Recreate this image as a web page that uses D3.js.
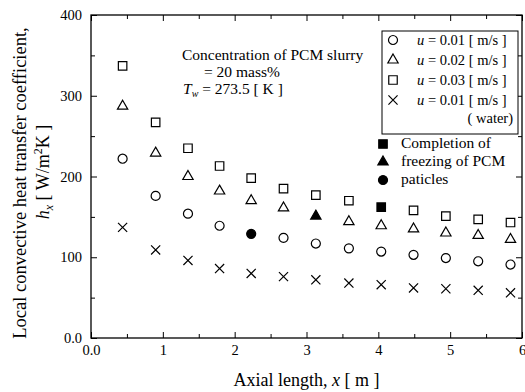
<!DOCTYPE html>
<html>
<head>
<meta charset="utf-8">
<script src="https://cdn.jsdelivr.net/npm/d3@7/dist/d3.min.js"></script>
<style>
  body { margin: 0; background: #fff; }
  svg { display: block; }
  text { font-family: "Liberation Serif", "Times New Roman", serif; fill: #000; }
</style>
</head>
<body>
<svg width="525" height="392"></svg>
<script>
// data
const axialLength = [0.44, 0.90, 1.35, 1.79, 2.23, 2.68, 3.13, 3.59, 4.04, 4.49, 4.94, 5.39, 5.84];
const hU001 = [222, 176, 154, 139, 129, 124, 117, 111, 107, 103, 99, 95, 91];
const hU002 = [287, 229, 200, 182, 170, 161, 151, 144, 139, 135, 130, 127, 122];
const hU003 = [337, 267, 235, 213, 198, 185, 177, 170, 162, 158, 151, 147, 143];
const hWater = [137, 109, 96, 86, 80, 76, 72, 68, 66, 62, 61, 59, 56];
const xTicks = [0, 1, 2, 3, 4, 5, 6];
const xMinor = [0.5, 1.5, 2.5, 3.5, 4.5, 5.5];
const yTicks = [0, 100, 200, 300, 400];
const yMinor = [50, 150, 250, 350];
const legendLabels = ['0.01', '0.02', '0.03', '0.01'];

const series = [
  {values: hU001, symbol: d3.symbolCircle, size: 64, filled: 4},
  {values: hU002, symbol: d3.symbolTriangle, size: 46, filled: 6},
  {values: hU003, symbol: d3.symbolSquare, size: 72, filled: 8},
  {values: hWater, symbol: d3.symbolX, size: 56, filled: -1}
];

const plotL = 91, plotR = 522, plotT = 15, plotB = 338;
const svg = d3.select('svg');

const x = d3.scaleLinear().domain([0, 6]).range([plotL, plotR]);
const y = d3.scaleLinear().domain([0, 400]).range([plotB, plotT]);

const fmt = (d) => d === 0 ? '0.0' : String(d);

// axes, ticks pointing inward
const addAxis = (axis, tx, ty) => {
  const g = svg.append('g').attr('transform', `translate(${tx},${ty})`).call(axis);
  g.select('.domain').remove();
  g.selectAll('line').attr('stroke', '#000').attr('stroke-width', 1);
  g.selectAll('text')
    .style('font-family', '"Liberation Serif", serif')
    .style('font-size', '14.5px')
    .attr('fill', '#000');
  return g;
};

addAxis(d3.axisBottom(x).tickValues(xTicks).tickSize(-6).tickPadding(7).tickFormat(fmt), 0, plotB);
addAxis(d3.axisBottom(x).tickValues(xMinor).tickSize(-4).tickFormat(''), 0, plotB);
addAxis(d3.axisTop(x).tickValues(xTicks).tickSize(-6).tickFormat(''), 0, plotT);
addAxis(d3.axisTop(x).tickValues(xMinor).tickSize(-4).tickFormat(''), 0, plotT);
addAxis(d3.axisLeft(y).tickValues(yTicks).tickSize(-6).tickPadding(9).tickFormat(fmt), plotL, 0);
addAxis(d3.axisLeft(y).tickValues(yMinor).tickSize(-4).tickFormat(''), plotL, 0);
addAxis(d3.axisRight(y).tickValues(yTicks).tickSize(-6).tickFormat(''), plotR, 0);
addAxis(d3.axisRight(y).tickValues(yMinor).tickSize(-4).tickFormat(''), plotR, 0);

svg.append('rect')
  .attr('x', plotL).attr('y', plotT)
  .attr('width', plotR - plotL).attr('height', plotB - plotT)
  .attr('fill', 'none').attr('stroke', '#000').attr('stroke-width', 1.3);

// markers
series.forEach((s) => {
  svg.append('g').selectAll('path')
    .data(s.values)
    .enter()
    .append('path')
    .attr('transform', (d, i) => `translate(${x(axialLength[i])},${y(d)})`)
    .attr('d', d3.symbol().type(s.symbol).size(s.size))
    .attr('fill', (d, i) => i === s.filled ? '#000' : 'none')
    .attr('stroke', '#000')
    .attr('stroke-width', 1.2);
});

// axis titles
svg.append('text')
  .attr('x', (plotL + plotR) / 2).attr('y', 386)
  .attr('text-anchor', 'middle')
  .style('font-size', '18px')
  .html('Axial length, <tspan font-style="italic">x</tspan> [ m ]');

svg.append('text')
  .attr('transform', 'translate(26,183) rotate(-90)')
  .attr('text-anchor', 'middle')
  .style('font-size', '18.5px')
  .text('Local convective heat transfer coefficient,');

svg.append('text')
  .attr('transform', 'translate(49,172) rotate(-90)')
  .attr('text-anchor', 'middle')
  .style('font-size', '18px')
  .html('<tspan font-style="italic">h</tspan><tspan font-style="italic" font-size="12px" dy="4">x</tspan>' +
        '<tspan dy="-4"> [ W/m</tspan><tspan font-size="12px" dy="-7">2</tspan><tspan dy="7">K ]</tspan>');

// condition note
const note = svg.append('g').style('font-size', '15.5px');
note.append('text').attr('x', 182).attr('y', 60).text('Concentration of PCM slurry');
note.append('text').attr('x', 204).attr('y', 77).text('= 20 mass%');
note.append('text').attr('x', 183).attr('y', 94)
  .html('<tspan font-style="italic">T</tspan><tspan font-style="italic" font-size="10px" dy="3">w</tspan><tspan dy="-3"> = 273.5 [ K ]</tspan>');

// legend
const legend = svg.append('g');
legend.append('rect')
  .attr('x', 382).attr('y', 31).attr('width', 136).attr('height', 103)
  .attr('fill', '#fff').attr('stroke', '#000').attr('stroke-width', 1);
const rowY = d3.scalePoint().domain(d3.range(4)).range([40, 100]);
series.forEach((s, i) => {
  legend.append('path')
    .attr('transform', `translate(393,${rowY(i)})`)
    .attr('d', d3.symbol().type(s.symbol).size(s.size))
    .attr('fill', 'none').attr('stroke', '#000').attr('stroke-width', 1.2);
  legend.append('text')
    .attr('x', 417).attr('y', rowY(i) + 5)
    .style('font-size', '14.5px')
    .html(`<tspan font-style="italic">u</tspan> = ${legendLabels[i]} [ m/s ]`);
});
legend.append('text')
  .attr('x', 513).attr('y', 123).attr('text-anchor', 'end')
  .style('font-size', '14.5px')
  .text('( water)');

// freezing completion key
const keyRows = [
  {symbol: d3.symbolSquare, size: 72, label: 'Completion of'},
  {symbol: d3.symbolTriangle, size: 46, label: 'freezing of PCM'},
  {symbol: d3.symbolCircle, size: 64, label: 'paticles'}
];
keyRows.forEach((k, i) => {
  const yy = 144 + i * 18;
  svg.append('path')
    .attr('transform', `translate(383,${yy})`)
    .attr('d', d3.symbol().type(k.symbol).size(k.size))
    .attr('fill', '#000').attr('stroke', '#000').attr('stroke-width', 1.2);
  svg.append('text')
    .attr('x', 401).attr('y', yy + 4)
    .style('font-size', '15.5px')
    .text(k.label);
});
</script>
</body>
</html>
